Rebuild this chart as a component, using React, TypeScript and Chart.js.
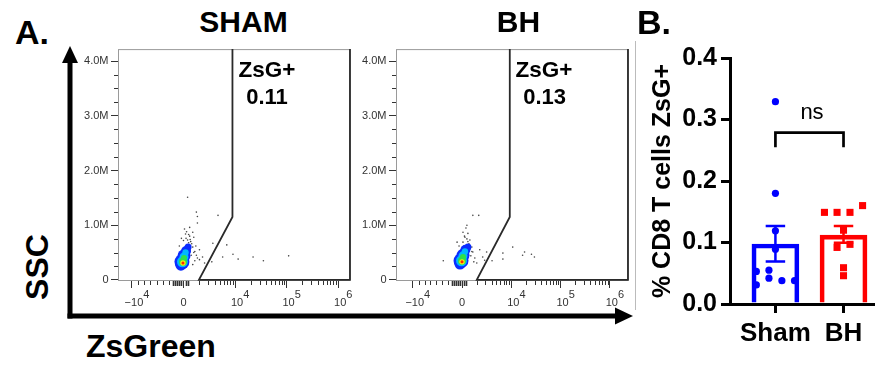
import React, { useEffect, useRef } from 'react';
import { Chart, registerables } from 'chart.js';

Chart.register(...registerables);

const FONT = '"Liberation Sans", Arial, Helvetica, sans-serif';

// ---------- Panel A: flow plots (x in display decades, y in millions) ----------
const flowXTickValues = [-1, 0, 1, 2, 3];
const flowXTickBase = ['−10', '0', '10', '10', '10'];
const flowXTickExp = ['4', '', '4', '5', '6'];
const flowYTickValues = [0, 1, 2, 3, 4];
const flowYTickLabels = ['0', '1.0M', '2.0M', '3.0M', '4.0M'];
const flowXMinorTicks = [-0.88, -0.76, -0.64, -0.52, -0.4, -0.28, 0.301, 0.477, 0.602, 0.699, 0.778, 0.845, 0.903, 0.954, 1.301, 1.477, 1.602, 1.699, 1.778, 1.845, 1.903, 1.954, 2.301, 2.477, 2.602, 2.699, 2.778, 2.845, 2.903, 2.954];
const flowXZeroTicks = [-0.2, -0.16, -0.12, -0.08, -0.04, 0.04, 0.08];
const flowYMinorTicks = [0.25, 0.5, 0.75, 1.25, 1.5, 1.75, 2.25, 2.5, 2.75, 3.25, 3.5, 3.75];

const shamRange = [-1.27, 3.23];
const bhRange = [-1.34, 3.37];
const shamGateX = [0.95, 0.95, 0.3, 3.23, 3.23];
const bhGateX = [0.97, 0.97, 0.3, 3.37, 3.37];
const gateY = [4.22, 1.15, 0, 0, 4.22];

const shamGateLabel = ['ZsG+', '0.11'];
const bhGateLabel = ['ZsG+', '0.13'];

const shamEvents = [
  [0.08, 1.51], [0.25, 1.24], [0.27, 1.16], [0.67, 1.18], [0.27, 1.04], [0.12, 0.96], [0.02, 0.93],
  [0.18, 0.87], [0.04, 0.84], [0.12, 0.8], [-0.04, 0.76], [0.08, 0.73], [0.2, 0.78], [0.57, 0.67],
  [0.84, 0.64], [0.31, 0.55], [0.24, 0.62], [0.37, 0.42], [0.25, 0.45], [0.55, 0.33], [0.76, 0.42],
  [0.96, 0.47], [1.06, 0.38], [1.35, 0.42], [1.55, 0.35], [2.04, 0.44], [0.41, 0.31], [0.22, 0.35],
  [0.14, 0.7], [0.06, 0.88], [0.16, 0.66], [0.22, 0.52], [0.1, 0.68], [0.18, 0.6], [0.2, 0.5],
  [0.15, 0.45], [-0.08, 0.62], [0.05, 0.76], [0.1, 0.83], [0.27, 0.4], [0.31, 0.37], [0.18, 0.28],
  [0.0, 0.72], [0.13, 0.74],
];
const bhEvents = [
  [0.22, 1.18], [0.34, 1.18], [0.1, 1.0], [0.02, 0.87], [0.12, 0.85], [0.06, 0.78], [0.16, 0.73],
  [0.02, 0.69], [-0.1, 0.69], [-0.38, 0.35], [0.22, 0.51], [0.36, 0.55], [0.5, 0.51], [0.42, 0.42],
  [0.46, 0.36], [0.3, 0.31], [0.61, 0.35], [0.83, 0.49], [0.83, 0.38], [1.03, 0.6], [1.23, 0.45],
  [1.27, 0.51], [1.41, 0.47], [1.47, 0.42], [0.08, 0.95], [0.14, 0.66], [0.2, 0.6], [0.12, 0.7],
  [0.2, 0.52], [0.18, 0.44], [0.05, 0.8], [0.1, 0.75], [0.26, 0.4], [0.24, 0.33], [-0.06, 0.62],
];

const densityColors = ['#ff2a00', '#f2ee10', '#2ee04a', '#00b8ff', '#0a2cff'];
const shamRed = [[-0.01, 0.31, 1.5]];
const shamYellow = [[-0.01, 0.31, 2.7]];
const shamGreen = [[-0.01, 0.33, 4], [0.01, 0.4, 3]];
const shamCyan = [[-0.02, 0.33, 5.5], [0.01, 0.42, 4.5], [0.04, 0.5, 3.2]];
const shamBlue = [[-0.03, 0.33, 7.5], [0.01, 0.44, 6.5], [0.05, 0.53, 5], [0.09, 0.6, 3.5], [-0.05, 0.27, 5.5]];
const bhRed = [[0, 0.33, 1.5]];
const bhYellow = [[0, 0.33, 2.7]];
const bhGreen = [[0, 0.35, 4], [0.02, 0.42, 3]];
const bhCyan = [[-0.01, 0.35, 5.5], [0.02, 0.44, 4.5], [0.06, 0.52, 3.2]];
const bhBlue = [[-0.02, 0.35, 7.5], [0.02, 0.45, 6.5], [0.07, 0.55, 5], [0.12, 0.6, 3.5], [-0.04, 0.29, 5.5]];

// ---------- Panel B: bar chart ----------
const groups = ['Sham', 'BH'];
const groupColors = ['#0000ff', '#ff0000'];
const groupMeans = [0.0975, 0.112];
const groupErrUpper = [0.127, 0.127];
const groupErrLower = [0.069, 0.0995];
const shamValues = [0.329, 0.18, 0.119, 0.089, 0.053, 0.055, 0.042, 0.031, 0.038, 0.038];
const shamJitter = [0, 0, 0, 0, -0.28, -0.095, -0.095, -0.28, 0.095, 0.28];
const bhValues = [0.149, 0.149, 0.149, 0.16, 0.12, 0.092, 0.097, 0.059, 0.046];
const bhJitter = [-0.28, -0.095, 0.095, 0.28, 0, -0.095, 0.095, 0, 0];
const bracketX = [0, 0, 1, 1];
const bracketY = [0.255, 0.2785, 0.2785, 0.255];
const sigLabel = 'ns';
const barYTicks = [0, 0.1, 0.2, 0.3, 0.4];
const barYTickLabels = ['0.0', '0.1', '0.2', '0.3', '0.4'];
const barYTitle = '% CD8 T cells ZsG+';

const flowDecorPlugin: any = {
  id: 'flowDecor',
  beforeDatasetsDraw(chart: any) {
    const { ctx, chartArea: a } = chart;
    ctx.save();
    ctx.strokeStyle = '#9a9a9a';
    ctx.lineWidth = 1;
    ctx.strokeRect(a.left + 0.5, a.top + 0.5, a.right - a.left - 1, a.bottom - a.top - 1);
    ctx.restore();
  },
  afterDraw(chart: any) {
    const { ctx, chartArea: a, scales } = chart;
    const xs = scales.x;
    const ys = scales.y;
    ctx.save();
    ctx.strokeStyle = '#333';
    const vtick = (v: number, len: number, w: number) => {
      const px = Math.round(xs.getPixelForValue(v)) + 0.5;
      ctx.lineWidth = w;
      ctx.beginPath();
      ctx.moveTo(px, a.bottom);
      ctx.lineTo(px, a.bottom + len);
      ctx.stroke();
    };
    flowXMinorTicks.forEach((v) => vtick(v, 4, 1));
    flowXZeroTicks.forEach((v) => vtick(v, 5, 1.6));
    ctx.lineWidth = 1;
    flowYMinorTicks.forEach((v) => {
      const py = Math.round(ys.getPixelForValue(v)) + 0.5;
      ctx.beginPath();
      ctx.moveTo(a.left - 4, py);
      ctx.lineTo(a.left, py);
      ctx.stroke();
    });
    ctx.fillStyle = '#333';
    ctx.font = `11px ${FONT}`;
    ctx.textBaseline = 'alphabetic';
    flowXTickValues.forEach((v, i) => {
      const px = xs.getPixelForValue(v);
      const base = flowXTickBase[i];
      const exp = flowXTickExp[i];
      const bw = ctx.measureText(base).width;
      if (!exp) {
        ctx.textAlign = 'center';
        ctx.fillText(base, px, a.bottom + 25);
      } else {
        const cx = px + 2;
        ctx.textAlign = 'center';
        ctx.fillText(base, cx, a.bottom + 25);
        ctx.textAlign = 'left';
        ctx.fillText(exp, cx + bw / 2, a.bottom + 17);
      }
    });
    ctx.restore();
  },
};

const errorBarPlugin: any = {
  id: 'errorBars',
  beforeDatasetsDraw(chart: any) {
    const { ctx, scales } = chart;
    const xs = scales.x;
    const ys = scales.y;
    ctx.save();
    ctx.lineWidth = 2.5;
    groups.forEach((_, i) => {
      const x = xs.getPixelForValue(i);
      const cap = xs.getPixelForValue(i + 0.143) - x;
      const yU = ys.getPixelForValue(groupErrUpper[i]);
      const yL = ys.getPixelForValue(groupErrLower[i]);
      ctx.strokeStyle = groupColors[i];
      ctx.beginPath();
      ctx.moveTo(x, yL);
      ctx.lineTo(x, yU);
      ctx.moveTo(x - cap, yU);
      ctx.lineTo(x + cap, yU);
      ctx.moveTo(x - cap, yL);
      ctx.lineTo(x + cap, yL);
      ctx.stroke();
    });
    ctx.restore();
  },
};

function toXY(arr: number[][]) {
  return arr.map((p) => ({ x: p[0], y: p[1] }));
}
function toXYR(arr: number[][]) {
  return arr.map((p) => ({ x: p[0], y: p[1], r: p[2] }));
}

function FlowPlot(props: any) {
  const { left, range, gateX, events, layers } = props;
  const ref = useRef<HTMLCanvasElement>(null);
  useEffect(() => {
    const layerSets = layers.map((pts: number[][], i: number) => ({
      type: 'bubble',
      data: toXYR(pts),
      backgroundColor: densityColors[i],
      borderWidth: 0,
      order: i + 1,
    }));
    const chart = new Chart(ref.current as HTMLCanvasElement, {
      type: 'scatter',
      data: {
        datasets: [
          {
            type: 'line',
            data: gateX.map((x: number, i: number) => ({ x, y: gateY[i] })),
            borderColor: '#2a2a2a',
            borderWidth: 1.8,
            pointRadius: 0,
            tension: 0,
            fill: false,
            clip: 4,
            order: 0,
          },
          ...layerSets,
          {
            type: 'scatter',
            data: toXY(events),
            pointRadius: 0.8,
            backgroundColor: '#444',
            borderWidth: 0,
            order: 10,
          },
        ] as any,
      },
      options: {
        responsive: false,
        animation: false,
        events: [],
        layout: { padding: { top: 8, right: 10, left: 0, bottom: 0 } },
        plugins: { legend: { display: false }, tooltip: { enabled: false } },
        scales: {
          x: {
            type: 'linear',
            min: range[0],
            max: range[1],
            afterBuildTicks: (s: any) => {
              s.ticks = flowXTickValues.map((v) => ({ value: v }));
            },
            ticks: { display: false },
            grid: { drawOnChartArea: false, drawTicks: true, tickLength: 7, color: '#333', lineWidth: 1 },
            border: { display: false },
            afterFit: (s: any) => {
              s.height = 34;
            },
          },
          y: {
            type: 'linear',
            min: -0.02,
            max: 4.22,
            afterBuildTicks: (s: any) => {
              s.ticks = flowYTickValues.map((v) => ({ value: v }));
            },
            ticks: {
              callback: (_v: any, i: number) => flowYTickLabels[i],
              color: '#333',
              font: { family: FONT, size: 11 },
              padding: 2.5,
              autoSkip: false,
            },
            grid: { drawOnChartArea: false, drawTicks: true, tickLength: 7, color: '#333', lineWidth: 1 },
            border: { display: false },
            afterFit: (s: any) => {
              s.width = 38;
            },
          },
        },
      } as any,
      plugins: [flowDecorPlugin],
    });
    return () => chart.destroy();
  }, []);
  return (
    <canvas
      ref={ref}
      width={280}
      height={275}
      style={{ position: 'absolute', left, top: 40, width: 280, height: 275 }}
    />
  );
}

function BarPanel() {
  const ref = useRef<HTMLCanvasElement>(null);
  useEffect(() => {
    const chart = new Chart(ref.current as HTMLCanvasElement, {
      type: 'scatter',
      data: {
        datasets: [
          {
            type: 'line',
            data: bracketX.map((x, i) => ({ x, y: bracketY[i] })),
            borderColor: '#000',
            borderWidth: 2.7,
            pointRadius: 0,
            tension: 0,
            fill: false,
            order: 0,
          },
          {
            type: 'scatter',
            data: shamValues.map((y, i) => ({ x: 0 + shamJitter[i], y })),
            pointStyle: 'circle',
            pointRadius: 3.6,
            backgroundColor: groupColors[0],
            borderWidth: 0,
            order: 1,
          },
          {
            type: 'scatter',
            data: bhValues.map((y, i) => ({ x: 1 + bhJitter[i], y })),
            pointStyle: 'rect',
            pointRadius: 5,
            backgroundColor: groupColors[1],
            borderWidth: 0,
            order: 1,
          },
          {
            type: 'bar',
            data: groupMeans.map((y, i) => ({ x: i, y })),
            backgroundColor: 'rgba(255,255,255,0)',
            borderColor: groupColors,
            borderWidth: 4,
            borderSkipped: 'start',
            barThickness: 47,
            order: 5,
          },
        ] as any,
      },
      options: {
        responsive: false,
        animation: false,
        events: [],
        layout: { padding: { top: 28, right: 1, left: 0, bottom: 0 } },
        plugins: { legend: { display: false }, tooltip: { enabled: false } },
        scales: {
          x: {
            type: 'linear',
            min: -0.667,
            max: 1.433,
            offset: false,
            afterBuildTicks: (s: any) => {
              s.ticks = groups.map((_, i) => ({ value: i }));
            },
            ticks: {
              callback: (_v: any, i: number) => groups[i],
              color: '#000',
              font: { family: FONT, size: 26, weight: 'bold' },
              padding: 5,
              maxRotation: 0,
              autoSkip: false,
            },
            grid: { drawOnChartArea: false, drawTicks: true, tickLength: 9, lineWidth: 3, color: '#000', offset: false },
            border: { display: true, color: '#000', width: 3 },
            afterFit: (s: any) => {
              s.height = 56;
            },
          },
          y: {
            type: 'linear',
            min: 0,
            max: 0.4,
            afterBuildTicks: (s: any) => {
              s.ticks = barYTicks.map((v) => ({ value: v }));
            },
            ticks: {
              callback: (_v: any, i: number) => barYTickLabels[i],
              color: '#000',
              font: { family: FONT, size: 25, weight: 'bold' },
              padding: 4,
              autoSkip: false,
            },
            grid: { drawOnChartArea: false, drawTicks: true, tickLength: 9, lineWidth: 3, color: '#000' },
            border: { display: true, color: '#000', width: 3 },
            title: {
              display: true,
              text: barYTitle,
              color: '#000',
              font: { family: FONT, size: 25, weight: 'bold' },
              padding: { top: 18, bottom: 0 },
            },
            afterFit: (s: any) => {
              s.width = 100;
            },
          },
        },
      } as any,
      plugins: [errorBarPlugin],
    });
    return () => chart.destroy();
  }, []);
  return (
    <canvas
      ref={ref}
      width={248}
      height={330}
      style={{ position: 'absolute', left: 630, top: 30, width: 248, height: 330 }}
    />
  );
}

function Txt(props: any) {
  const { x, top, size, weight = 'bold', center = true, children } = props;
  return (
    <div
      style={{
        position: 'absolute',
        left: x,
        top,
        fontSize: size,
        fontWeight: weight,
        fontFamily: FONT,
        lineHeight: 1,
        whiteSpace: 'nowrap',
        color: '#000',
        transform: center ? 'translateX(-50%)' : undefined,
      }}
    >
      {children}
    </div>
  );
}

export default function App() {
  return (
    <div
      style={{
        position: 'fixed',
        left: 0,
        top: 0,
        width: 878,
        height: 366,
        background: '#fff',
        overflow: 'hidden',
        fontFamily: FONT,
      }}
    >
      <svg width={878} height={366} style={{ position: 'absolute', left: 0, top: 0 }}>
        <line x1={70} y1={318.5} x2={70} y2={60} stroke="#000" strokeWidth={5} />
        <polygon points="62,63 70,46 78,63" fill="#000" />
        <line x1={67.5} y1={316} x2={618} y2={316} stroke="#000" strokeWidth={5} />
        <polygon points="615,307.5 633,316 615,324.5" fill="#000" />
        <line x1={635.5} y1={41} x2={635.5} y2={310} stroke="#bbb" strokeWidth={1} />
      </svg>
      <FlowPlot
        left={80}
        range={shamRange}
        gateX={shamGateX}
        events={shamEvents}
        layers={[shamRed, shamYellow, shamGreen, shamCyan, shamBlue]}
      />
      <FlowPlot
        left={358}
        range={bhRange}
        gateX={bhGateX}
        events={bhEvents}
        layers={[bhRed, bhYellow, bhGreen, bhCyan, bhBlue]}
      />
      <BarPanel />
      <Txt x={15} top={14.5} size={34} center={false}>A.</Txt>
      <Txt x={637} top={4.7} size={34} center={false}>B.</Txt>
      <Txt x={243.5} top={6.9} size={30}>SHAM</Txt>
      <Txt x={518.5} top={6.9} size={30}>BH</Txt>
      <Txt x={267} top={59.3} size={22.5}>{shamGateLabel[0]}</Txt>
      <Txt x={267} top={85.7} size={22}>{shamGateLabel[1]}</Txt>
      <Txt x={544} top={59.3} size={22.5}>{bhGateLabel[0]}</Txt>
      <Txt x={544.7} top={85.7} size={22}>{bhGateLabel[1]}</Txt>
      <Txt x={86} top={329.9} size={32} center={false}>ZsGreen</Txt>
      <div
        style={{
          position: 'absolute',
          left: 36.5,
          top: 267,
          fontSize: 32,
          fontWeight: 'bold',
          fontFamily: FONT,
          lineHeight: 1,
          whiteSpace: 'nowrap',
          transform: 'translate(-50%, -50%) rotate(-90deg)',
        }}
      >
        SSC
      </div>
      <Txt x={812} top={101.4} size={22} weight="normal">{sigLabel}</Txt>
    </div>
  );
}
